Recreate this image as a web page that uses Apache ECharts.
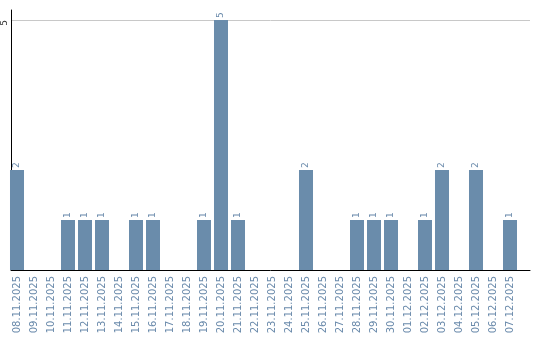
<!DOCTYPE html>
<html><head><meta charset="utf-8">
<script src="https://cdn.jsdelivr.net/npm/echarts@6/dist/echarts.min.js"></script>
<style>html,body{margin:0;padding:0;background:#fff}#c{width:540px;height:340px}</style>
</head><body><div id="c"></div>
<script>
const categories = ["08.11.2025","09.11.2025","10.11.2025","11.11.2025","12.11.2025","13.11.2025","14.11.2025","15.11.2025","16.11.2025","17.11.2025","18.11.2025","19.11.2025","20.11.2025","21.11.2025","22.11.2025","23.11.2025","24.11.2025","25.11.2025","26.11.2025","27.11.2025","28.11.2025","29.11.2025","30.11.2025","01.12.2025","02.12.2025","03.12.2025","04.12.2025","05.12.2025","06.12.2025","07.12.2025"];
const values = [2,0,0,1,1,1,0,1,1,0,0,1,5,1,0,0,0,2,0,0,1,1,1,0,1,2,0,2,0,1];
const yTicks = [0,5];
const yMax = 5.2;

const chart = echarts.init(document.getElementById('c'), null, {renderer:'canvas'});
chart.setOption({
  animation:false,
  grid:[
    {left:10,right:10,top:10,bottom:70,containLabel:false},
    {left:8.5,right:21.5,top:10,bottom:70,containLabel:false}
  ],
  xAxis:[
    {type:'value',gridIndex:0,min:0,max:1,
      axisLine:{show:true,onZero:false,lineStyle:{color:'#000',width:1}},
      axisTick:{show:false},axisLabel:{show:false},splitLine:{show:false}},
    {type:'category',gridIndex:1,data:categories,
      axisLine:{show:false},axisTick:{show:false},
      axisLabel:{rotate:90,interval:0,color:'#6a8aab',fontSize:10,fontFamily:'DejaVu Sans',margin:6}}
  ],
  yAxis:[
    {type:'value',gridIndex:0,min:0,max:yMax,interval:5,
      axisLine:{show:true,lineStyle:{color:'#000',width:1}},
      axisTick:{show:false},
      splitLine:{show:true,showMaxLine:false,showMinLine:false,lineStyle:{color:'#c8c8c8',width:1}},
      axisLabel:{rotate:90,align:'right',verticalAlign:'bottom',fontSize:9,color:'#333',fontFamily:'DejaVu Sans',margin:2,
        formatter:v=>yTicks.includes(v)&&v!==0?String(v):''}},
    {type:'value',gridIndex:1,min:0,max:yMax,show:false}
  ],
  series:[{type:'bar',xAxisIndex:1,yAxisIndex:1,data:values,barCategoryGap:'17.6%',
    itemStyle:{color:'#6a8cab'},
    label:{show:true,position:'top',rotate:90,align:'left',verticalAlign:'middle',distance:2,
      fontSize:9,color:'#6a8aab',fontFamily:'DejaVu Sans',
      formatter:p=>p.value>0?String(p.value):''}}]
});
</script></body></html>
